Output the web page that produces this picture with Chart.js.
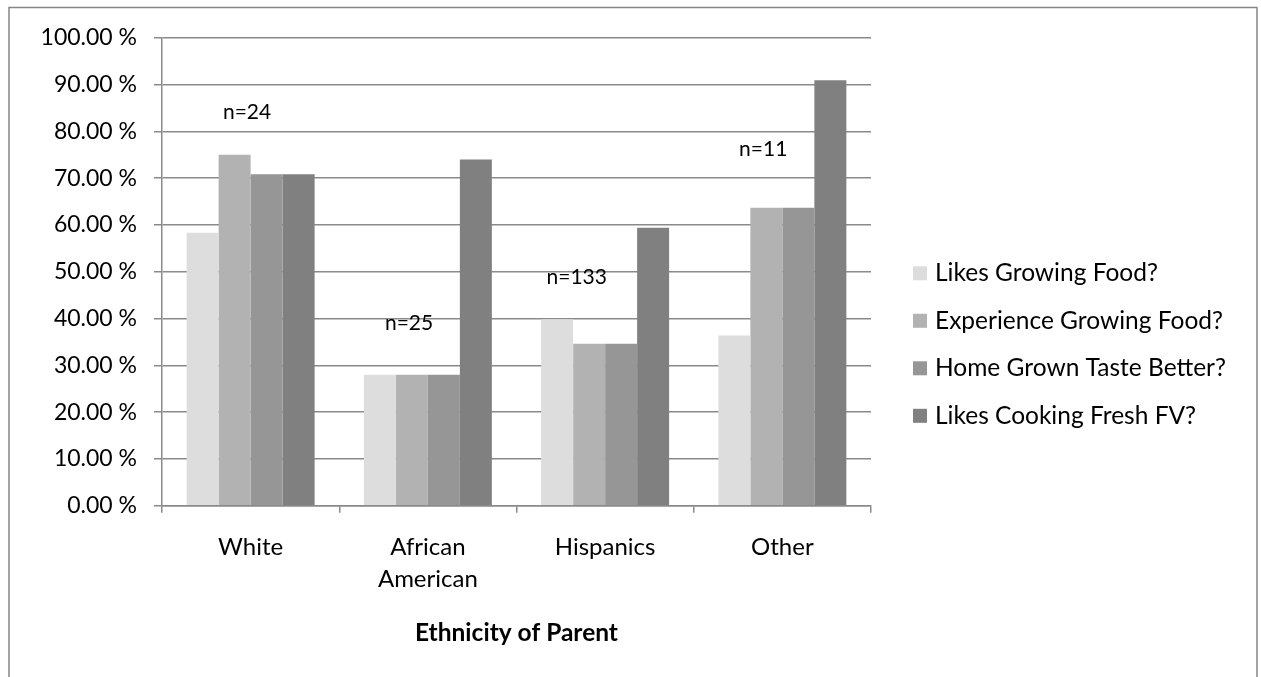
<!DOCTYPE html>
<html>
<head>
<meta charset="utf-8">
<script src="https://cdn.jsdelivr.net/npm/chart.js@4.4.1/dist/chart.umd.min.js"></script>
<style>
  html, body { margin: 0; padding: 0; background: #ffffff; }
  #wrap { width: 1261px; height: 677px; position: relative; }
</style>
</head>
<body>
<div id="wrap"><canvas id="chart" width="1261" height="677"></canvas></div>
<script>
// Survey answers by ethnicity of parent (share answering "yes", %)
const categories = ['White', ['African', 'American'], 'Hispanics', 'Other'];
const seriesNames = [
  'Likes Growing Food?',
  'Experience Growing Food?',
  'Home Grown Taste Better?',
  'Likes Cooking Fresh FV?'
];
const likesGrowing      = [58.33, 28.00, 39.85, 36.36];
const experienceGrowing = [75.00, 28.00, 34.59, 63.64];
const homeGrownTaste    = [70.83, 28.00, 34.59, 63.64];
const likesCookingFV    = [70.83, 74.00, 59.40, 90.91];
const sampleSizes = ['n=24', 'n=25', 'n=133', 'n=11'];
const yTicks = [0, 10, 20, 30, 40, 50, 60, 70, 80, 90, 100];

const seriesValues = [likesGrowing, experienceGrowing, homeGrownTaste, likesCookingFV];
const seriesColors = ['#dddddd', '#b2b2b2', '#969696', '#808080'];

// where each sample-size note sits: value level (%) and shift within its category
const noteAnchors = [
  { level: 84.0, shift: -0.02 },
  { level: 39.0, shift: -0.106 },
  { level: 48.9, shift: -0.16 },
  { level: 76.2, shift: -0.108 }
];

const FONT = 'Lato, "Open Sans", sans-serif';
const GRID = '#8a8a8a';

const framePlugin = {
  id: 'frame',
  beforeDraw(chart) {
    const ctx = chart.ctx;
    ctx.save();
    ctx.fillStyle = '#ffffff';
    ctx.fillRect(0, 0, chart.width, chart.height);
    ctx.strokeStyle = '#868686';
    ctx.lineWidth = 1.5;
    ctx.strokeRect(9, 7.5, 1248, 700);
    ctx.restore();
  }
};

const notesPlugin = {
  id: 'notes',
  afterDatasetsDraw(chart) {
    const ctx = chart.ctx;
    const xs = chart.scales.x, ys = chart.scales.y;
    const catW = (xs.right - xs.left) / categories.length;
    ctx.save();
    ctx.font = '21px ' + FONT;
    ctx.fillStyle = '#000000';
    ctx.textAlign = 'center';
    ctx.textBaseline = 'middle';
    sampleSizes.forEach((txt, i) => {
      const a = noteAnchors[i];
      const x = xs.getPixelForValue(i) + a.shift * catW;
      const y = ys.getPixelForValue(a.level);
      ctx.fillText(txt, x, y);
    });
    ctx.restore();
  }
};

const legendPlugin = {
  id: 'sideLegend',
  afterDraw(chart) {
    const ctx = chart.ctx;
    const x0 = 913, box = 14, gap = 8;
    const yFirst = 273.3, step = 47.5;
    ctx.save();
    ctx.font = '24.5px ' + FONT;
    ctx.textBaseline = 'middle';
    ctx.textAlign = 'left';
    chart.data.datasets.forEach((ds, i) => {
      const y = yFirst + i * step;
      ctx.fillStyle = ds.backgroundColor;
      ctx.fillRect(x0, y - box / 2, box, box);
      ctx.fillStyle = '#000000';
      ctx.fillText(ds.label, x0 + box + gap, y);
    });
    ctx.restore();
  }
};

new Chart(document.getElementById('chart'), {
  type: 'bar',
  data: {
    labels: categories,
    datasets: seriesNames.map((name, i) => ({
      label: name,
      data: seriesValues[i],
      backgroundColor: seriesColors[i],
      borderWidth: 0,
      categoryPercentage: 0.722,
      barPercentage: 1.0
    }))
  },
  options: {
    responsive: false,
    animation: false,
    devicePixelRatio: 1,
    layout: { padding: { left: 0, right: 390, top: 37.7, bottom: 0 } },
    plugins: {
      legend: { display: false },
      tooltip: { enabled: false }
    },
    scales: {
      x: {
        offset: true,
        grid: {
          display: true,
          offset: true,
          drawOnChartArea: false,
          drawTicks: true,
          tickLength: 7,
          color: GRID,
          lineWidth: 1.5
        },
        border: { display: true, color: GRID, width: 1.5 },
        ticks: {
          color: '#000000',
          padding: 19,
          maxRotation: 0,
          autoSkip: false,
          font: { family: FONT, size: 24, lineHeight: 32 / 24 }
        },
        title: {
          display: true,
          text: 'Ethnicity of Parent',
          color: '#000000',
          font: { family: FONT, size: 24.5, weight: 'bold', lineHeight: 1.2 },
          padding: { top: 0, bottom: 29.3 }
        },
        afterFit(scale) { scale.height = 677 - 505.7; }
      },
      y: {
        min: 0,
        max: 100,
        afterBuildTicks(scale) { scale.ticks = yTicks.map(v => ({ value: v })); },
        grid: {
          color: GRID,
          lineWidth: 1.5,
          drawTicks: true,
          tickLength: 8
        },
        border: { display: true, color: GRID, width: 1.5 },
        ticks: {
          color: '#000000',
          padding: 17,
          font: { family: FONT, size: 23 },
          callback: v => Number(v).toFixed(2) + ' %'
        },
        afterFit(scale) { scale.width = 162; }
      }
    }
  },
  plugins: [framePlugin, notesPlugin, legendPlugin]
});
</script>
</body>
</html>
